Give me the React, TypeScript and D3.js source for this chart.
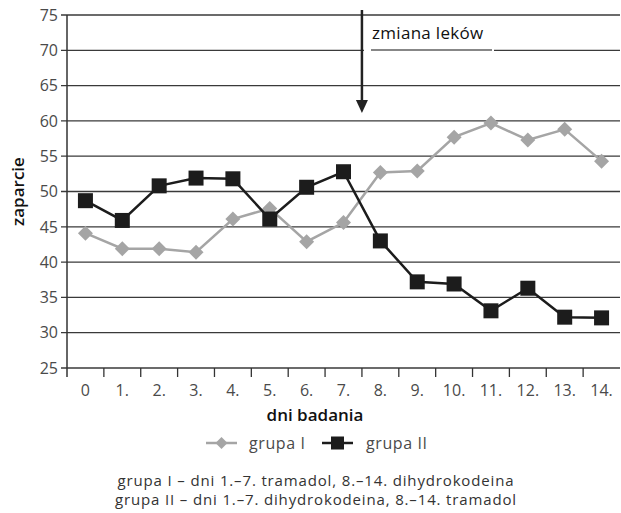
import React from "react";
import * as d3 from "d3";

const days = ["0", "1.", "2.", "3.", "4.", "5.", "6.", "7.", "8.", "9.", "10.", "11.", "12.", "13.", "14."];
const grupaI = [44.1, 41.9, 41.9, 41.4, 46.1, 47.6, 42.9, 45.6, 52.7, 52.9, 57.7, 59.7, 57.3, 58.8, 54.3];
const grupaII = [48.7, 45.9, 50.8, 51.9, 51.8, 46.1, 50.6, 52.8, 43.0, 37.2, 36.9, 33.1, 36.3, 32.2, 32.1];
const yTicks = [25, 30, 35, 40, 45, 50, 55, 60, 65, 70, 75];
const seriesNames = ["grupa I", "grupa II"];
const notes = [
  "grupa I – dni 1.–7. tramadol, 8.–14. dihydrokodeina",
  "grupa II – dni 1.–7. dihydrokodeina, 8.–14. tramadol",
];
const annotation = "zmiana leków";
const xTitle = "dni badania";
const yTitle = "zaparcie";

const W = 621, H = 513;
const L = 67, R = 620, T = 15, B = 368;
const FONT = "'Open Sans', sans-serif";
const GRAY = "#a5a5a5";
const BLACK = "#1c1c1c";

export default function App() {
  const x = d3.scaleBand<string>().domain(days).range([L, R]);
  const y = d3.scaleLinear().domain([25, 75]).range([B, T]);
  const cx = (d: string) => (x(d) as number) + x.bandwidth() / 2;
  const line = d3.line<number>().x((_, i) => cx(days[i])).y((v) => y(v));
  const arrowX = x(days[8]) as number;
  const ds = 7.5;
  const sq = 7.5;
  const ly = 443;
  return (
    <svg width={W} height={H} style={{ position: "absolute", left: 0, top: 0 }} fontFamily={FONT}>
      <rect width={W} height={H} fill="#fff" />
      {yTicks.map((t) => (
        <g key={t}>
          <line x1={L - 6} x2={R} y1={y(t)} y2={y(t)} stroke="#3a3a3a" strokeWidth={1.3} />
          <text x={L - 9} y={y(t)} dy="0.36em" textAnchor="end" fontSize={16} fill="#4a4a4a">{t}</text>
        </g>
      ))}
      <line x1={L} x2={L} y1={T} y2={B + 9} stroke="#333" strokeWidth={1.5} />
      {days.map((d, i) => (
        <g key={d}>
          {i > 0 && <line x1={x(d)} x2={x(d)} y1={B} y2={B + 9} stroke="#333" strokeWidth={1.3} />}
          <text x={cx(d)} y={396} textAnchor="middle" fontSize={16} fill="#4a4a4a">{d}</text>
        </g>
      ))}
      <text transform={`translate(24,${(T + B) / 2}) rotate(-90)`} textAnchor="middle" fontSize={17} fontWeight={600} fill="#111">{yTitle}</text>
      <text x={315} y={421} textAnchor="middle" fontSize={17} fontWeight={600} fill="#111">{xTitle}</text>

      {/* annotation */}
      <rect x={364} y={17} width={130} height={34} fill="#fff" />
      <line x1={371} x2={492} y1={50} y2={50} stroke="#111" strokeWidth={1.2} />
      <text x={372} y={39} fontSize={17} letterSpacing={0.3} fill="#111">{annotation}</text>
      <line x1={arrowX} x2={arrowX} y1={10} y2={102} stroke="#222" strokeWidth={2.5} />
      <path d={`M${arrowX - 6},100 L${arrowX + 6},100 L${arrowX},113 Z`} fill="#222" />

      <path d={line(grupaI) || ""} fill="none" stroke={GRAY} strokeWidth={2.5} />
      {grupaI.map((v, i) => (
        <path key={i} d={`M${cx(days[i])},${y(v) - ds} L${cx(days[i]) + ds},${y(v)} L${cx(days[i])},${y(v) + ds} L${cx(days[i]) - ds},${y(v)} Z`} fill={GRAY} />
      ))}
      <path d={line(grupaII) || ""} fill="none" stroke={BLACK} strokeWidth={2.5} />
      {grupaII.map((v, i) => (
        <rect key={i} x={cx(days[i]) - sq} y={y(v) - sq} width={sq * 2} height={sq * 2} fill={BLACK} />
      ))}

      {/* legend */}
      <g>
        <line x1={206} x2={237} y1={ly} y2={ly} stroke={GRAY} strokeWidth={2.5} />
        <path d={`M221.5,${ly - 6} L227.5,${ly} L221.5,${ly + 6} L215.5,${ly} Z`} fill={GRAY} />
        <text x={249} y={ly} dy="0.36em" fontSize={16} letterSpacing={0.6} fill="#4a4a4a">{seriesNames[0]}</text>
        <line x1={322} x2={353} y1={ly} y2={ly} stroke={BLACK} strokeWidth={2.5} />
        <rect x={331} y={ly - 6.5} width={13} height={13} fill={BLACK} />
        <text x={366} y={ly} dy="0.36em" fontSize={16} letterSpacing={0.6} fill="#4a4a4a">{seriesNames[1]}</text>
      </g>
      {notes.map((n, i) => (
        <text key={i} x={316} y={486 + i * 19} textAnchor="middle" fontSize={15} letterSpacing={0.85} fill="#333">{n}</text>
      ))}
    </svg>
  );
}
